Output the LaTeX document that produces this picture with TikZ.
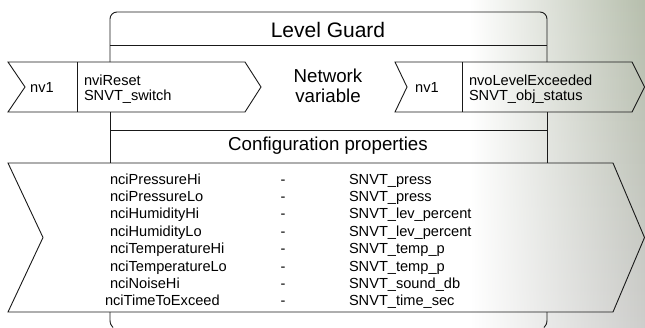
\documentclass[tikz,border=0pt]{standalone}
\usepackage{fontspec}
\setmainfont{Liberation Sans}
\usetikzlibrary{fadings}
\definecolor{lineC}{RGB}{25,25,25}
\definecolor{photoTop}{RGB}{182,190,172}
\definecolor{photoBot}{RGB}{205,205,203}
\begin{document}
\begin{tikzpicture}[x=1pt,y=-1pt,
  outline/.style={draw=lineC, line width=0.9pt, line join=miter},
  txt/.style={inner sep=0pt, outer sep=0pt, text=black},
  small/.style={txt, font=\fontsize{14.6}{16}\selectfont},
  big/.style={txt, font=\fontsize{18.7}{21}\selectfont},
  title/.style={txt, font=\fontsize{21}{24}\selectfont}]
\useasboundingbox (0,0) rectangle (645,327);
\clip (0,0) rectangle (645,327);
% faint photo in the background at the right
\shade[top color=photoTop, bottom color=photoBot, path fading=west] (470,0) rectangle (645,327);
% main block outline (interrupted by the arrows)
\draw[outline, rounded corners=7pt] (110,62) -- (110,12) -- (547,12) -- (547,62);
\draw[outline] (110,112) -- (110,163);
\draw[outline] (547,112) -- (547,163);
\draw[outline] (110,312) -- (110,320) .. controls (110,323.5) and (111.3,326) .. (113,327.5);
\draw[outline] (547,312) -- (547,320) .. controls (547,323.5) and (545.7,326) .. (544,327.5);
\draw[outline] (110,45.5) -- (547,45.5);
\draw[outline] (110,130) -- (547,130);
% input arrow
\draw[outline] (8,62) -- (245,62) -- (261,87) -- (245,112) -- (8,112) -- (25,87) -- cycle;
\draw[outline] (77,62) -- (77,112);
% output arrow
\draw[outline] (395,62) -- (632,62) -- (644.5,87) -- (632,112) -- (395,112) -- (407,87) -- cycle;
\draw[outline] (462,62) -- (462,112);
% configuration arrow
\draw[outline] (8,163) -- (613,163) -- (644.5,237.5) -- (613,312) -- (8,312) -- (43,237.5) -- cycle;
% texts
\node[title, anchor=base] (ttl) at (328,37.5) {Level Guard};
\node[big, anchor=base] (net1) at (328,82.5) {Network};
\node[big, anchor=base] (net2) at (328,102) {variable};
\node[big, anchor=base] (cfg) at (328,150) {Configuration properties};
\node[small, anchor=base] (inv) at (42,92) {nv1};
\node[small, anchor=base west] (in1) at (84,85.5) {nviReset};
\node[small, anchor=base west] (in2) at (84,100.5) {SNVT\_switch};
\node[small, anchor=base] (outv) at (427,92) {nv1};
\node[small, anchor=base west] (out1) at (469,85.5) {nvoLevelExceeded};
\node[small, anchor=base west] (out2) at (469,100.5) {SNVT\_obj\_status};
\foreach \xx/\nm/\tp [count=\i from 0] in {
  110/nciPressureHi/SNVT\_press,
  110/nciPressureLo/SNVT\_press,
  110/nciHumidityHi/SNVT\_lev\_percent,
  110/nciHumidityLo/SNVT\_lev\_percent,
  110/nciTemperatureHi/SNVT\_temp\_p,
  110/nciTemperatureLo/SNVT\_temp\_p,
  110/nciNoiseHi/SNVT\_sound\_db,
  105/nciTimeToExceed/SNVT\_time\_sec} {
  \node[small, anchor=base west] (name\i) at (\xx,184+17.4*\i) {\nm};
  \node[small, anchor=base] (dash\i) at (283,184+17.4*\i) {-};
  \node[small, anchor=base west] (type\i) at (349,184+17.4*\i) {\tp};
}
\end{tikzpicture}
\end{document}
